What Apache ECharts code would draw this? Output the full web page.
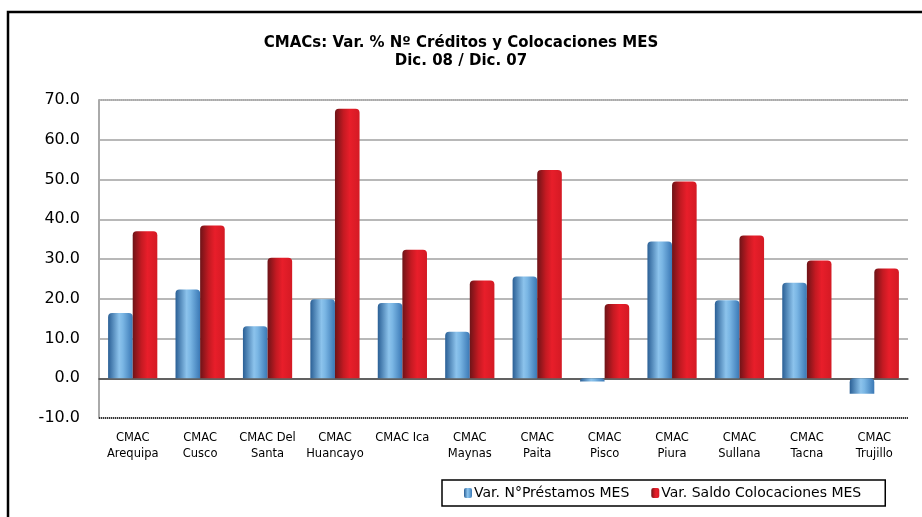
<!DOCTYPE html>
<html>
<head>
<meta charset="utf-8">
<script src="https://cdn.jsdelivr.net/npm/echarts@6/dist/echarts.min.js"></script>
<style>html,body{margin:0;padding:0;background:#fff}#c{width:922px;height:517px}</style>
</head>
<body>
<div id="c"></div>
<script>
const categories = ["CMAC\nArequipa","CMAC\nCusco","CMAC Del\nSanta","CMAC\nHuancayo","CMAC Ica","CMAC\nMaynas","CMAC\nPaita","CMAC\nPisco","CMAC\nPiura","CMAC\nSullana","CMAC\nTacna","CMAC\nTrujillo"];
const prestamos = [16.4, 22.3, 13.1, 19.9, 18.9, 11.7, 25.6, -0.8, 34.4, 19.6, 24.0, -3.9];
const colocaciones = [37.0, 38.4, 30.3, 67.8, 32.3, 24.6, 52.4, 18.7, 49.5, 35.9, 29.6, 27.6];
const seriesNames = ["Var. N°Préstamos MES", "Var. Saldo Colocaciones MES"];
const titleLines = ["CMACs: Var. % Nº Créditos y Colocaciones MES", "Dic. 08 / Dic. 07"];

const FONT = "'DejaVu Sans',sans-serif";
const blueGrad = {type:'linear',x:0,y:0,x2:1,y2:0,colorStops:[
  {offset:0,color:'#2a5f95'},{offset:0.45,color:'#8cc3ec'},{offset:0.6,color:'#7ab6e4'},{offset:1,color:'#3a78b5'}]};
const redGrad = {type:'linear',x:0,y:0,x2:1,y2:0,colorStops:[
  {offset:0,color:'#6e1418'},{offset:0.35,color:'#c41a22'},{offset:0.6,color:'#e81e2a'},{offset:1,color:'#d41a24'}]};

const chart = echarts.init(document.getElementById('c'), null, {renderer:'canvas'});
chart.setOption({
  animation:false,
  backgroundColor:'#fff',
  graphic:[{type:'rect',shape:{x:8,y:12,width:940,height:600},style:{fill:'none',stroke:'#000',lineWidth:2.5},silent:true}],
  title:[
    {text:titleLines[0],left:'center',top:31,textStyle:{fontFamily:FONT,fontWeight:'bold',fontSize:15,color:'#000'}},
    {text:titleLines[1],left:'center',top:49,textStyle:{fontFamily:FONT,fontWeight:'bold',fontSize:15,color:'#000'}}
  ],
  legend:{data:[seriesNames[0],seriesNames[1]],left:442,top:480,itemGap:22,itemWidth:8,itemHeight:10,
    borderColor:'#000',borderWidth:1.5,padding:[6,24,6,22],
    textStyle:{fontFamily:FONT,fontSize:14,color:'#000',padding:[0,0,0,-3]}},
  grid:{left:99,right:14,top:100,bottom:99,containLabel:false},
  xAxis:{type:'category',data:categories,
    axisLine:{onZero:true,lineStyle:{color:'#444',width:1.5}},
    axisTick:{show:false},
    axisLabel:{fontFamily:FONT,fontSize:11.5,color:'#000',lineHeight:16,margin:12,interval:0},
    offset:0},
  yAxis:{type:'value',min:-10,max:70,interval:10,
    axisLine:{show:true,lineStyle:{color:'#aaa',width:2}},
    axisTick:{show:false},
    axisLabel:{fontFamily:FONT,fontSize:16,color:'#000',margin:19,formatter:v=>v.toFixed(1)},
    splitLine:{lineStyle:{color:'#b8b8b8',width:2}}},
  series:[
    {name:seriesNames[0],type:'bar',data:prestamos,barGap:'0%',barCategoryGap:'27%',
      itemStyle:{color:blueGrad,borderRadius:[4,4,0,0]},
      markLine:{silent:true,symbol:'none',label:{show:false},
        data:[{yAxis:-10,lineStyle:{color:'#333',type:[1,1],width:2}},{yAxis:70,lineStyle:{color:'#aaa',type:[1,1],width:2}}]}},
    {name:seriesNames[1],type:'bar',data:colocaciones,
      itemStyle:{color:redGrad,borderRadius:[4,4,0,0]}}
  ]
});
</script>
</body>
</html>
